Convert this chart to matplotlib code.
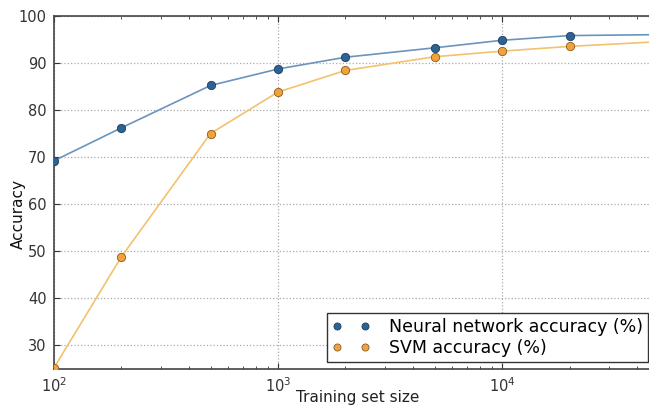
import numpy as np
import matplotlib.pyplot as plt
from matplotlib.ticker import LogLocator, NullFormatter

# Training set sizes and accuracies
train_sizes = [100, 200, 500, 1000, 2000, 5000, 10000, 20000, 50000]
nn_accuracy = [69.2, 76.2, 85.2, 88.7, 91.2, 93.2, 94.8, 95.8, 96.0]
svm_accuracy = [25.2, 48.8, 75.0, 83.8, 88.4, 91.3, 92.5, 93.5, 94.5]

nn_label = 'Neural network accuracy (%)'
svm_label = 'SVM accuracy (%)'

# Figure of 649x405 pixels
fig = plt.figure(figsize=(6.49, 4.05), dpi=100)

# The axes run a bit past the right edge, like in the cropped original
ax = fig.add_axes([0.083, 0.089, 0.932, 0.872])

# Plot both series as lines with round markers
ax.plot(train_sizes, nn_accuracy, '-', color='#6a94bd', linewidth=1.2, zorder=2)
ax.plot(train_sizes, nn_accuracy, 'o', color='#2d6294', markeredgecolor='#1f3f5f',
        markersize=6, markeredgewidth=0.6, label=nn_label, zorder=3)
ax.plot(train_sizes, svm_accuracy, '-', color='#f2c26e', linewidth=1.2, zorder=2)
ax.plot(train_sizes, svm_accuracy, 'o', color='#f0a33c', markeredgecolor='#8a5a20',
        markersize=6, markeredgewidth=0.6, label=svm_label, zorder=3)

# Log scale on x, classic style ticks
ax.set_xscale('log')
ax.set_xlim(100, 50000)
ax.set_ylim(25, 100)
ax.set_yticks([30, 40, 50, 60, 70, 80, 90, 100])
ax.xaxis.set_minor_locator(LogLocator(base=10, subs=np.arange(2, 10)))
ax.xaxis.set_minor_formatter(NullFormatter())
ax.tick_params(which='both', direction='in', top=True, right=True, labelsize=10.5, colors='#333333')
ax.tick_params(which='major', length=4, pad=5)
ax.tick_params(which='minor', length=2)

# Dotted grid behind the data
ax.grid(True, which='major', linestyle=':', color='#aaaaaa', linewidth=0.9, zorder=1)

for side in ax.spines.values():
    side.set_color('#444444')
    side.set_linewidth(1.2)

# Axis labels, placed where the original has them
ax.set_xlabel('Training set size', fontsize=11, color='#222222')
ax.set_ylabel('Accuracy', fontsize=11, color='#111111')
ax.xaxis.set_label_coords(0.502, -0.061)
ax.yaxis.set_label_coords(-0.047, 0.44)

# Legend with two markers per entry
legend = ax.legend(loc='lower right', bbox_to_anchor=(0.983, 0.02), numpoints=2,
                   fontsize=12.5, fancybox=False, framealpha=1, edgecolor='#333333',
                   borderaxespad=0, handletextpad=1.1, handlelength=2.2,
                   borderpad=0.3, labelspacing=0.15, markerscale=0.85)
legend.get_frame().set_linewidth(1.0)

fig.savefig('out.png', dpi=100)
